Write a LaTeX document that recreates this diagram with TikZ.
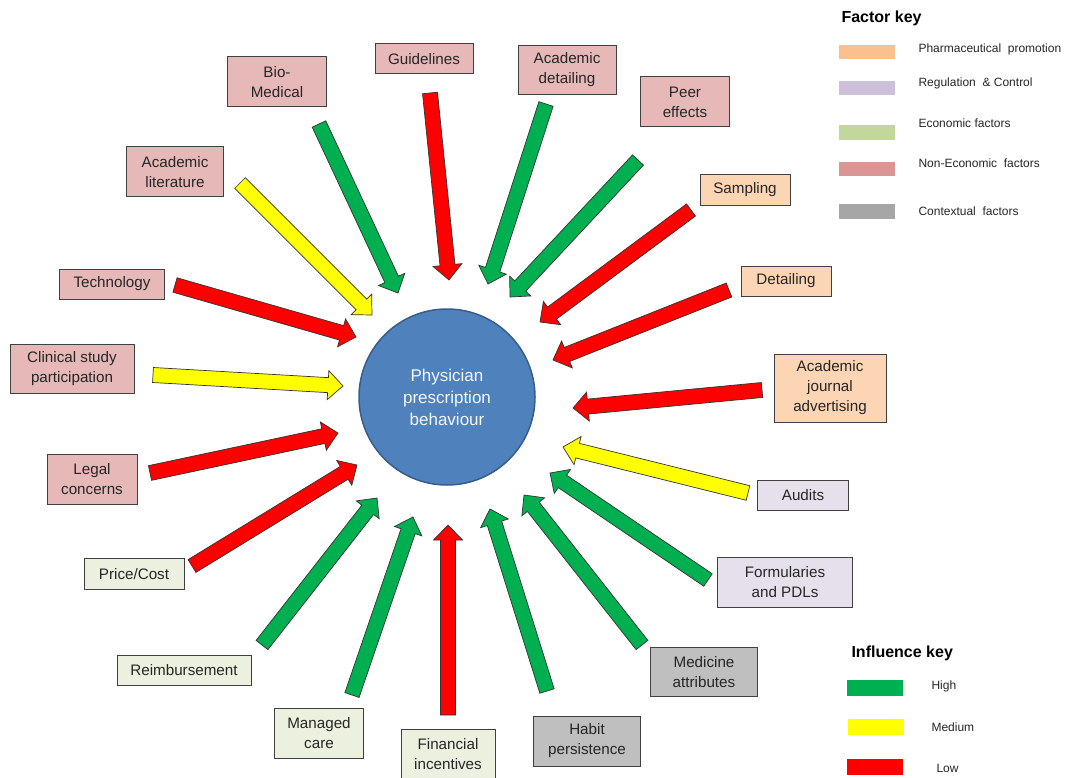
\documentclass[tikz,border=0pt]{standalone}
\usepackage{fontspec}
\setmainfont{Liberation Sans}
\usetikzlibrary{calc}

\definecolor{nonecon}{HTML}{E6B9B8}
\definecolor{pharma}{HTML}{FCD5B5}
\definecolor{regul}{HTML}{E6E0EC}
\definecolor{econ}{HTML}{EBF1DE}
\definecolor{context}{HTML}{BFBFBF}
\definecolor{keyorange}{HTML}{FAC090}
\definecolor{keylav}{HTML}{CCC0DA}
\definecolor{keygreen}{HTML}{C3D69B}
\definecolor{keyred}{HTML}{D99694}
\definecolor{keygrey}{HTML}{A6A6A6}
\definecolor{high}{HTML}{00B050}
\definecolor{medium}{HTML}{FFFF00}
\definecolor{low}{HTML}{FF0000}
\definecolor{hub}{HTML}{4F81BD}
\definecolor{hubline}{HTML}{385D8A}
\definecolor{ink}{HTML}{262626}

% block arrow geometry
\newcommand\arrshaft{7.5pt}
\newcommand\arrhead{14.5pt}
\newcommand\arrlen{15pt}
% \blockarrow{style}{tail}{tip}
\newcommand\blockarrow[3]{%
  \coordinate (#2-neck) at ($(#3)!\arrlen!(#2)$);
  \filldraw[#1]
    ($(#2)!\arrshaft!90:(#3)$) -- ($(#2-neck)!\arrshaft!90:(#3)$)
    -- ($(#2-neck)!\arrhead!90:(#3)$) -- (#3)
    -- ($(#2-neck)!\arrhead!-90:(#3)$) -- ($(#2-neck)!\arrshaft!-90:(#3)$)
    -- ($(#2)!\arrshaft!-90:(#3)$) -- cycle;
}

\tikzset{
  factor/.style={draw=black!75, line width=1pt, text=ink, align=center,
    font=\fontsize{15.2}{20}\selectfont, inner sep=2pt},
  nonecbox/.style={factor, fill=nonecon},
  pharmbox/.style={factor, fill=pharma},
  regbox/.style={factor, fill=regul},
  econbox/.style={factor, fill=econ},
  ctxbox/.style={factor, fill=context},
  arr/.style={draw=black!80, line width=0.7pt, line join=miter},
  higharr/.style={arr, fill=high},
  medarr/.style={arr, fill=medium},
  lowarr/.style={arr, fill=low},
  keytext/.style={anchor=west, text=ink, font=\fontsize{12}{14}\selectfont},
  keytitle/.style={anchor=west, text=black, font=\bfseries\fontsize{16}{18}\selectfont},
}

\begin{document}
\begin{tikzpicture}[x=1pt,y=-1pt]
\useasboundingbox (0,0) rectangle (1065,778);

% central circle
\node[circle, fill=hub, draw=hubline, line width=1.5pt, minimum size=176pt,
  text=white!94!hub, align=center, font=\fontsize{17}{22}\selectfont]
  (hubnode) at (447,397) {Physician\\prescription\\behaviour};

% factor boxes
\node[nonecbox, minimum width=98pt, minimum height=30pt] (guide) at (424,59) {Guidelines};
\node[nonecbox, minimum width=99pt, minimum height=50pt] (bio) at (277,82) {Bio-\\Medical};
\node[nonecbox, minimum width=98pt, minimum height=49pt] (acdet) at (567,70) {Academic\\detailing};
\node[nonecbox, minimum width=89pt, minimum height=50pt] (peer) at (685,102) {Peer\\effects};
\node[nonecbox, minimum width=97pt, minimum height=50pt] (aclit) at (175,172) {Academic\\literature};
\node[pharmbox, minimum width=90pt, minimum height=31pt] (samp) at (745,190) {Sampling};
\node[nonecbox, minimum width=105pt, minimum height=30pt] (tech) at (112,284) {Technology};
\node[pharmbox, minimum width=90pt, minimum height=30pt] (detail) at (786,281) {Detailing};
\node[nonecbox, minimum width=124pt, minimum height=49pt] (clin) at (72,369) {Clinical study\\participation};
\node[pharmbox, minimum width=112pt, minimum height=68pt] (ajadv) at (830,388) {Academic\\journal\\advertising};
\node[nonecbox, minimum width=90pt, minimum height=50pt] (legal) at (92,479) {Legal\\concerns};
\node[regbox, minimum width=91pt, minimum height=30pt] (audit) at (803,495) {Audits};
\node[econbox, minimum width=100pt, minimum height=31pt] (price) at (134,574) {Price/Cost};
\node[regbox, minimum width=135pt, minimum height=50pt] (form) at (785,582) {Formularies\\and PDLs};
\node[econbox, minimum width=134pt, minimum height=30pt] (reimb) at (184,670) {Reimbursement};
\node[ctxbox, minimum width=107pt, minimum height=49pt] (medattr) at (704,672) {Medicine\\attributes};
\node[econbox, minimum width=89pt, minimum height=50pt] (managed) at (319,733) {Managed\\care};
\node[ctxbox, minimum width=107pt, minimum height=50pt] (habit) at (587,741) {Habit\\persistence};
\node[econbox, minimum width=94pt, minimum height=50pt] (fin) at (448,754) {Financial\\incentives};

% arrow tails and tips
\coordinate (bio-t) at (319,124);    \coordinate (bio-p) at (398,293);
\coordinate (guide-t) at (430,93);   \coordinate (guide-p) at (449,280);
\coordinate (acdet-t) at (546,104);  \coordinate (acdet-p) at (488,284);
\coordinate (peer-t) at (638,160);   \coordinate (peer-p) at (510,297);
\coordinate (aclit-t) at (240,183);  \coordinate (aclit-p) at (372,315);
\coordinate (samp-t) at (691,210);   \coordinate (samp-p) at (540,322);
\coordinate (tech-t) at (175,285);   \coordinate (tech-p) at (356,337);
\coordinate (detail-t) at (729,290); \coordinate (detail-p) at (553,360);
\coordinate (clin-t) at (153,375);   \coordinate (clin-p) at (343,386);
\coordinate (ajadv-t) at (762,390);  \coordinate (ajadv-p) at (573,408);
\coordinate (legal-t) at (150,473);  \coordinate (legal-p) at (338,433);
\coordinate (audit-t) at (748,493);  \coordinate (audit-p) at (563,447);
\coordinate (price-t) at (192,566);  \coordinate (price-p) at (357,465);
\coordinate (form-t) at (708,580);   \coordinate (form-p) at (550,473);
\coordinate (reimb-t) at (262,645);  \coordinate (reimb-p) at (377,498);
\coordinate (medattr-t) at (642,645);\coordinate (medattr-p) at (524,495);
\coordinate (managed-t) at (352,695);\coordinate (managed-p) at (413,517);
\coordinate (fin-t) at (448,715);    \coordinate (fin-p) at (448,525);
\coordinate (habit-t) at (547,691);  \coordinate (habit-p) at (490,509);

% influence arrows
\blockarrow{higharr}{bio-t}{bio-p}
\blockarrow{lowarr}{guide-t}{guide-p}
\blockarrow{higharr}{acdet-t}{acdet-p}
\blockarrow{higharr}{peer-t}{peer-p}
\blockarrow{medarr}{aclit-t}{aclit-p}
\blockarrow{lowarr}{samp-t}{samp-p}
\blockarrow{lowarr}{tech-t}{tech-p}
\blockarrow{lowarr}{detail-t}{detail-p}
\blockarrow{medarr}{clin-t}{clin-p}
\blockarrow{lowarr}{ajadv-t}{ajadv-p}
\blockarrow{lowarr}{legal-t}{legal-p}
\blockarrow{medarr}{audit-t}{audit-p}
\blockarrow{lowarr}{price-t}{price-p}
\blockarrow{higharr}{form-t}{form-p}
\blockarrow{higharr}{reimb-t}{reimb-p}
\blockarrow{higharr}{medattr-t}{medattr-p}
\blockarrow{higharr}{managed-t}{managed-p}
\blockarrow{lowarr}{fin-t}{fin-p}
\blockarrow{higharr}{habit-t}{habit-p}

% factor key
\node[keytitle] (fkey) at (838,18) {Factor key};
\fill[keyorange] (839,45) rectangle (895,59);
\fill[keylav] (839,81) rectangle (895,95);
\fill[keygreen] (839,125) rectangle (895,140);
\fill[keyred] (839,162) rectangle (895,176);
\fill[keygrey] (839,204) rectangle (895,219);
\node[keytext] (k1) at (915,49) {Pharmaceutical \ promotion};
\node[keytext] (k2) at (915,83) {Regulation \ \& Control};
\node[keytext] (k3) at (915,123) {Economic factors};
\node[keytext] (k4) at (915,163) {Non-Economic \ factors};
\node[keytext] (k5) at (915,211) {Contextual \ factors};

% influence key
\node[keytitle] (ikey) at (848,653) {Influence key};
\fill[high] (847,680) rectangle (903,696);
\fill[medium] (848,719) rectangle (904,735);
\fill[low] (847,759) rectangle (903,775);
\node[keytext] (i1) at (928,686) {High};
\node[keytext] (i2) at (928,727) {Medium};
\node[keytext] (i3) at (933,768) {Low};
\end{tikzpicture}
\end{document}
